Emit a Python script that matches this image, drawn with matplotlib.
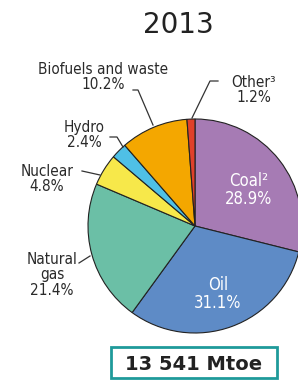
import matplotlib.pyplot as plt
from matplotlib.patches import Rectangle

# ── data ─────────────────────────────────────────────────────────────
fuels  = ["Coal", "Oil", "Natural gas", "Nuclear", "Hydro", "Biofuels and waste", "Other"]
shares = [28.9, 31.1, 21.4, 4.8, 2.4, 10.2, 1.2]
colors = ["#a67bb4", "#5e8bc6", "#6bbfa6", "#f7e84a", "#4fc0e6", "#f4a700", "#e0412a"]
year   = "2013"
total  = "13 541 Mtoe"

W, H = 298, 380
CX, CY, R = 195, 380 - 226, 107
LINE = "#333333"

fig = plt.figure(figsize=(W / 100, H / 100), dpi=100)
ax = fig.add_axes([0, 0, 1, 1])

ax.pie(shares, colors=colors, startangle=90, counterclock=False,
       center=(CX, CY), radius=R, frame=True,
       wedgeprops=dict(edgecolor="#222222", linewidth=0.8))
ax.set_xlim(0, W)
ax.set_ylim(0, H)
ax.set_aspect("equal")
ax.axis("off")

def py(y):
    return H - y

ax.text(178, py(25), year, ha="center", va="center", fontsize=20, color="#222222")

# labels outside
lbl = dict(fontsize=11, family="DejaVu Sans", fontstretch="condensed", color="#2a2a2a",
           linespacing=1.05, ha="center", va="center")
ax.text(103, py(77), f"{fuels[5]}\n{shares[5]:.1f}%", **lbl)
ax.text(254, py(90), f"{fuels[6]}³\n{shares[6]:.1f}%", **lbl)
ax.text(84, py(135), f"{fuels[4]}\n{shares[4]:.1f}%", **lbl)
ax.text(47, py(179), f"{fuels[3]}\n{shares[3]:.1f}%", **lbl)
ax.text(52, py(275), "Natural\ngas\n" + f"{shares[2]:.1f}%", **lbl)

# labels inside
inl = dict(lbl, fontsize=12, color="white")
ax.text(249, py(190), f"{fuels[0]}²\n{shares[0]:.1f}%", **inl)
ax.text(218, py(294), f"{fuels[1]}\n{shares[1]:.1f}%", **inl)

# leader lines
leaders = [
    [(133, 90), (138, 90), (153, 125)],
    [(218, 81), (210, 81), (192, 118)],
    [(110, 137), (117, 137), (123, 147)],
    [(82, 171), (100, 175)],
    [(79, 263), (90, 256)],
]
for pts in leaders:
    ax.plot([p[0] for p in pts], [py(p[1]) for p in pts], color=LINE, lw=0.9)

# total box
ax.add_patch(Rectangle((111, py(378)), 166, 31, fill=False, edgecolor="#1f9a9a", lw=2))
ax.text(194, py(364), total, ha="center", va="center", fontsize=14, fontweight="bold", color="#222222")

fig.savefig("out.png", dpi=100)
